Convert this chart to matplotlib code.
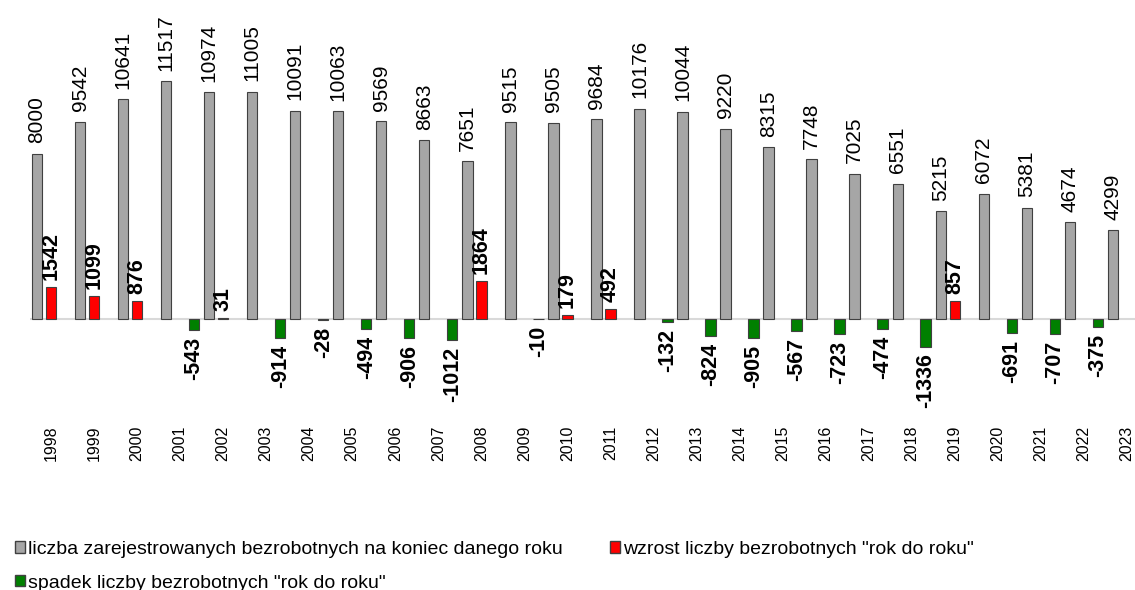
import numpy as np
import matplotlib
matplotlib.use('Agg')
import matplotlib.pyplot as plt
from matplotlib.patches import Patch

plt.rcParams['font.family'] = ['Liberation Sans', 'DejaVu Sans']

years = [str(y) for y in range(1998, 2024)]
total = [8000, 9542, 10641, 11517, 10974, 11005, 10091, 10063, 9569, 8663,
         7651, 9515, 9505, 9684, 10176, 10044, 9220, 8315, 7748, 7025,
         6551, 5215, 6072, 5381, 4674, 4299]
# year-on-year change, shown next to the previous year's bar
increase = [1542, 1099, 876, None, 31, None, None, None, None, None,
            1864, None, 179, 492, None, None, None, None, None, None,
            None, 857, None, None, None, None]
decrease = [None, None, None, -543, None, -914, -28, -494, -906, -1012,
            None, -10, None, None, -132, -824, -905, -567, -723, -474,
            -1336, None, -691, -707, -375, None]

labels = [
    'liczba zarejestrowanych bezrobotnych na koniec danego roku',
    'wzrost liczby bezrobotnych "rok do roku"',
    'spadek liczby bezrobotnych "rok do roku"',
]
colors = ['#a6a6a6', '#ff0000', '#008000']

fig = plt.figure(figsize=(11.35, 5.9), dpi=100)
ax = fig.add_axes([0.026, 0.288, 0.974, 0.712])

x = np.arange(len(years))
off = 0.325
w = 0.24
inc = np.array([np.nan if v is None else v for v in increase], dtype=float)
dec = np.array([np.nan if v is None else v for v in decrease], dtype=float)

ax.axhline(0, color='#d9d9d9', lw=1.5, zorder=0)
ax.bar(x - off, total, w, color=colors[0], edgecolor='#404040', lw=0.8, zorder=2)
ax.bar(x, inc, w, color=colors[1], edgecolor='#404040', lw=0.8, zorder=2)
ax.bar(x + off, dec, w, color=colors[2], edgecolor='#404040', lw=0.8, zorder=2)

for xi, v in zip(x, total):
    ax.annotate(str(v), (xi - off, v), xytext=(0, 7.5), textcoords='offset points',
                rotation=90, ha='center', va='bottom', fontsize=15)
for xi, v in zip(x, inc):
    if not np.isnan(v):
        ax.annotate(str(int(v)), (xi, v), xytext=(0, 5), textcoords='offset points',
                    rotation=90, ha='center', va='bottom', fontsize=15.5, fontweight='bold')
for xi, v in zip(x, dec):
    if not np.isnan(v):
        ax.annotate(str(int(v)), (xi + off, v), xytext=(0, -5), textcoords='offset points',
                    rotation=90, ha='center', va='top', fontsize=15.5, fontweight='bold')

ax.set_xlim(-0.5, 25.19)
ax.set_ylim(-4888, 15440)
ax.set_xticks(x)
ax.set_xticklabels(years, rotation=90, fontsize=11.5)
ax.tick_params(axis='x', length=0, pad=4)
ax.set_yticks([])
for s in ax.spines.values():
    s.set_visible(False)

handles = [Patch(facecolor=colors[0], edgecolor='#404040', label=labels[0]),
           Patch(facecolor=colors[2], edgecolor='#404040', label=labels[2]),
           Patch(facecolor=colors[1], edgecolor='#404040', label=labels[1])]
fig.legend(handles=handles, loc='upper left', bbox_to_anchor=(0.013, 0.083),
           ncol=2, frameon=False, fontsize=14, handlelength=0.52, handleheight=0.52,
           handletextpad=0.15, columnspacing=2.45, labelspacing=0.85,
           borderaxespad=0, borderpad=0)

fig.savefig('out.png', dpi=100)
